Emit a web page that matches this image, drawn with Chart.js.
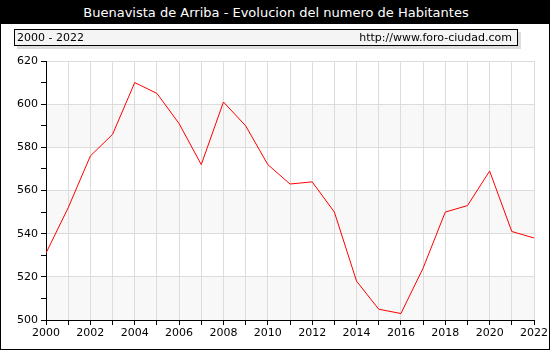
<!DOCTYPE html>
<html>
<head>
<meta charset="utf-8">
<script src="https://cdn.jsdelivr.net/npm/chart.js@4/dist/chart.umd.min.js"></script>
<style>
  body { margin: 0; background: #fff; }
  #wrap { position: relative; width: 550px; height: 350px; box-sizing: border-box; border: 1px solid #000; overflow: hidden; font-family: 'DejaVu Sans', Verdana, sans-serif; }
  #title { position: absolute; left: 0; top: 0; width: 550px; height: 23px; background: #000; color: #fff; font-size: 13px; line-height: 23px; text-align: center; }
  #info { position: absolute; left: 13px; top: 28px; width: 502px; height: 15px; border: 1px solid #000; background: #f4f4f4; box-shadow: 3px 3px 0 #ddd; font-size: 11px; line-height: 15px; }
  #info .l { position: absolute; left: 2px; }
  #info .r { position: absolute; right: 5px; }
  #chart { position: absolute; left: -1px; top: -1px; }
</style>
</head>
<body>
<div id="wrap">
  <canvas id="chart" width="550" height="350"></canvas>
  <div id="title">Buenavista de Arriba - Evolucion del numero de Habitantes</div>
  <div id="info"><span class="l">2000 - 2022</span><span class="r">http://www.foro-ciudad.com</span></div>
</div>
<script>
const years = [2000, 2001, 2002, 2003, 2004, 2005, 2006, 2007, 2008, 2009, 2010, 2011,
  2012, 2013, 2014, 2015, 2016, 2017, 2018, 2019, 2020, 2021, 2022];
const habitantes = [531, 552, 576, 586, 610, 605, 591, 572, 601, 590, 572, 563,
  564, 550, 518, 505, 503, 524, 550, 553, 569, 541, 538];
const yMin = 500;
const yMax = 620;
const bands = [[500, 520], [540, 560], [580, 600]];

const bandPlugin = {
  id: 'bands',
  beforeDraw(chart) {
    const { ctx, chartArea, scales } = chart;
    ctx.save();
    ctx.fillStyle = '#f8f8f8';
    bands.forEach(b => {
      const top = scales.y.getPixelForValue(b[1]);
      const bottom = scales.y.getPixelForValue(b[0]);
      ctx.fillRect(chartArea.left, top, chartArea.right - chartArea.left, bottom - top);
    });
    ctx.restore();
  }
};

const font = { family: "'DejaVu Sans', Verdana, sans-serif", size: 11 };

new Chart(document.getElementById('chart'), {
  type: 'line',
  data: {
    datasets: [{
      data: years.map((y, i) => ({ x: y, y: habitantes[i] })),
      borderColor: '#ff0000',
      borderWidth: 1,
      pointRadius: 0,
      tension: 0,
      fill: false
    }]
  },
  options: {
    responsive: false,
    animation: false,
    layout: { padding: { top: 61, right: 15, left: 0, bottom: 0 } },
    plugins: { legend: { display: false }, tooltip: { enabled: false } },
    scales: {
      x: {
        type: 'linear',
        min: 2000,
        max: 2022,
        afterFit(scale) { scale.height = 30; },
        ticks: {
          stepSize: 1,
          autoSkip: false,
          maxRotation: 0,
          color: '#000',
          font: font,
          padding: 2,
          callback: v => (v % 2 === 0 ? String(v) : '')
        },
        grid: { color: '#dcdcdc', tickColor: '#000', tickLength: 5, lineWidth: 1 },
        border: { color: '#000', width: 1 }
      },
      y: {
        min: yMin,
        max: yMax,
        afterFit(scale) { scale.width = 46; },
        ticks: {
          stepSize: 10,
          color: '#000',
          font: font,
          padding: 3,
          callback: v => (v % 20 === 0 ? String(v) : '')
        },
        grid: {
          color: ctx => (ctx.tick && ctx.tick.value % 20 === 0 ? '#dcdcdc' : 'rgba(0,0,0,0)'),
          tickColor: '#000',
          tickLength: 5,
          lineWidth: 1
        },
        border: { color: '#000', width: 1 }
      }
    }
  },
  plugins: [bandPlugin]
});
</script>
</body>
</html>
